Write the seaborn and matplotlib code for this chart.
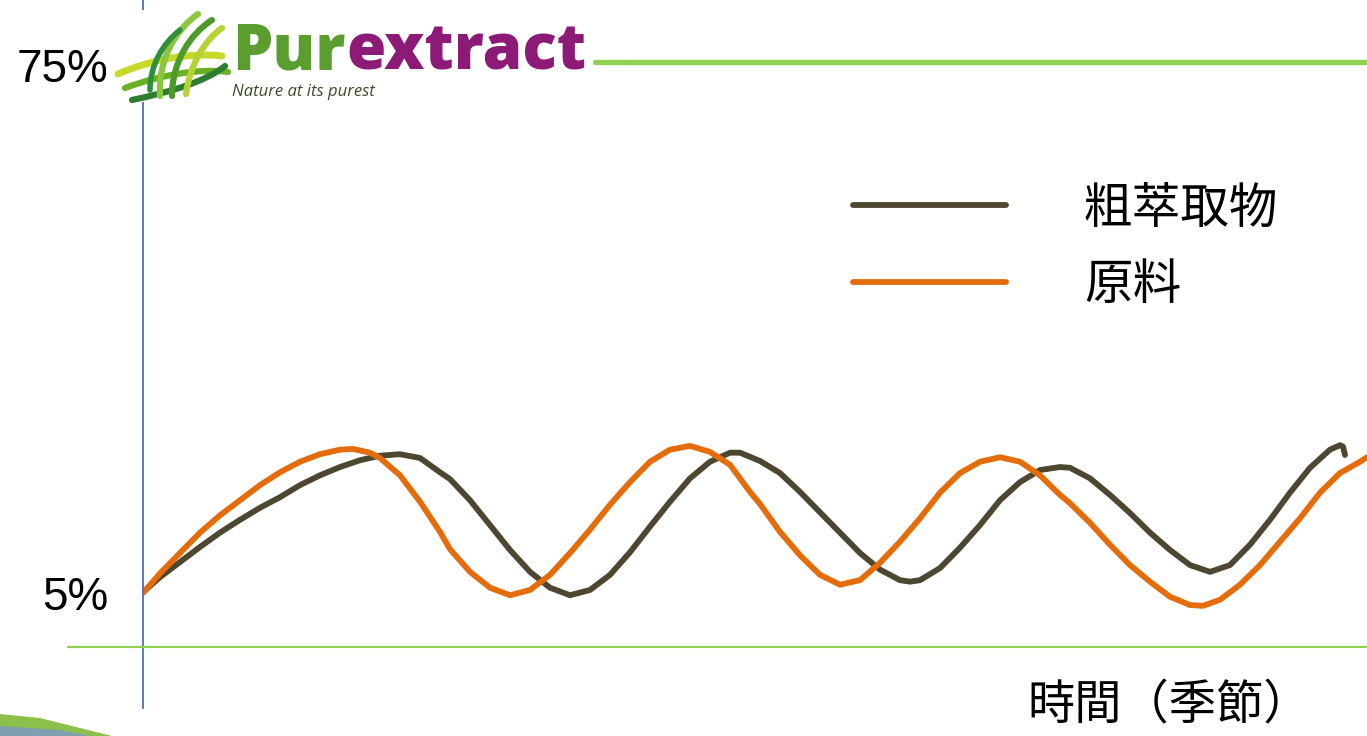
import matplotlib
matplotlib.use("Agg")
import matplotlib.pyplot as plt
import matplotlib.transforms as mtransforms
from matplotlib.path import Path
from matplotlib.patches import PathPatch, Polygon, Rectangle
from matplotlib.lines import Line2D
import pandas as pd
import seaborn as sns

# series (time in arbitrary units, value in %)
crude_t = [0.0, 0.17, 0.37, 0.57, 0.77, 0.97, 1.17, 1.37, 1.57, 1.77, 1.97, 2.17,
           2.37, 2.57, 2.77, 2.97, 3.07, 3.27, 3.47, 3.67, 3.87, 4.07, 4.27, 4.47,
           4.67, 4.87, 5.07, 5.27, 5.47, 5.67, 5.87, 5.97, 6.17, 6.37, 6.57, 6.77,
           6.97, 7.17, 7.37, 7.57, 7.67, 7.77, 7.97, 8.17, 8.37, 8.57, 8.77, 8.97,
           9.17, 9.27, 9.47, 9.67, 9.87, 10.07, 10.27, 10.47, 10.67, 10.87, 11.07,
           11.27, 11.47, 11.67, 11.87, 11.97, 12.0, 12.02]
crude_v = [5.1, 7.1, 9.1, 11.1, 13.0, 14.7, 16.3, 17.7, 19.3, 20.6, 21.7, 22.6,
           23.2, 23.4, 22.9, 21.0, 20.1, 17.3, 14.0, 10.7, 7.8, 5.7, 4.7, 5.4,
           7.4, 10.4, 13.8, 17.1, 20.2, 22.4, 23.6, 23.6, 22.5, 20.9, 18.4, 15.7,
           13.0, 10.3, 8.1, 6.7, 6.5, 6.7, 8.3, 11.0, 14.0, 17.3, 19.7, 21.3,
           21.7, 21.6, 20.2, 18.0, 15.6, 13.0, 10.7, 8.7, 7.8, 8.7, 11.4,
           14.7, 18.3, 21.6, 24.0, 24.6, 24.4, 23.3]

raw_t = [0.0, 0.17, 0.37, 0.57, 0.77, 0.97, 1.17, 1.37, 1.57, 1.77, 1.97, 2.10,
         2.27, 2.37, 2.57, 2.77, 2.97, 3.07, 3.27, 3.47, 3.67, 3.87, 4.07, 4.27,
         4.47, 4.67, 4.87, 5.07, 5.27, 5.47, 5.67, 5.87, 6.07, 6.17, 6.37, 6.57,
         6.77, 6.97, 7.17, 7.37, 7.57, 7.77, 7.97, 8.17, 8.37, 8.57, 8.77, 8.97,
         9.17, 9.27, 9.47, 9.67, 9.87, 10.07, 10.27, 10.47, 10.60, 10.77, 10.97,
         11.17, 11.37, 11.57, 11.77, 11.97, 12.17, 12.24]
raw_v = [5.0, 7.6, 10.3, 13.0, 15.3, 17.3, 19.3, 21.0, 22.4, 23.4, 24.0, 24.1,
         23.6, 22.9, 20.6, 17.1, 13.1, 10.8, 7.8, 5.7, 4.7, 5.4, 7.4, 10.3,
         13.4, 16.7, 19.7, 22.4, 24.0, 24.5, 23.7, 22.0, 18.4, 16.8, 13.1, 10.0,
         7.4, 6.1, 6.7, 9.0, 11.8, 14.9, 18.3, 20.9, 22.4, 23.0, 22.4, 20.6,
         18.0, 16.9, 14.3, 11.4, 8.7, 6.5, 4.5, 3.4, 3.3, 4.1, 6.1,
         8.7, 11.8, 14.9, 18.3, 20.9, 22.4, 23.0]

series_names = ["粗萃取物", "原料"]
y_ticks = [5, 75]
y_tick_labels = ["5%", "75%"]
x_label = "時間（季節）"

df = pd.concat([
    pd.DataFrame({"t": crude_t, "v": crude_v, "series": series_names[0]}),
    pd.DataFrame({"t": raw_t, "v": raw_v, "series": series_names[1]}),
])

sns.set_style("white")
plt.rcParams["font.family"] = ["Noto Sans CJK TC", "Liberation Sans", "DejaVu Sans"]
plt.rcParams["text.color"] = "black"
plt.rcParams["ytick.color"] = "black"

W, H = 1367, 736
fig = plt.figure(figsize=(W / 100, H / 100), dpi=100)
# pixel (from top-left) -> figure transform for the slide decorations
px = mtransforms.Affine2D().scale(1 / W, -1 / H).translate(0, 1) + fig.transFigure

ax = fig.add_axes([143 / W, 28 / H, 1 - 143 / W, 708 / H])
sns.lineplot(data=df, x="t", y="v", hue="series", hue_order=series_names,
             palette=["#4d4630", "#e46c0a"], linewidth=4.2, sort=False,
             estimator=None, ax=ax)
for ln in ax.lines:
    ln.set_solid_joinstyle("round")
    ln.set_solid_capstyle("round")
ax.set_xlim(0, 12.24)
ax.set_ylim(-10.25, 83.62)
ax.set_xticks([])
ax.set_yticks(y_ticks)
ax.set_yticklabels(y_tick_labels, fontsize=33, color="black",
                   family=["Liberation Sans", "DejaVu Sans"])
ax.tick_params(axis="y", length=0, pad=25)
ax.set_ylabel("")
ax.set_xlabel(x_label, fontsize=34, color="black", ha="center", va="center")
ax.xaxis.set_label_coords(0.838, 0.004)
for s in ["top", "right", "bottom"]:
    ax.spines[s].set_visible(False)
ax.spines["left"].set_color("#4472c4")
ax.spines["left"].set_linewidth(1.3)

leg = ax.legend(loc="upper left", bbox_to_anchor=(853 / W, 1 - 184 / H),
                bbox_transform=fig.transFigure, frameon=False, fontsize=35,
                handlelength=3.15, handletextpad=1.6, labelspacing=0.55,
                borderpad=0, borderaxespad=0)
for txt in leg.get_texts():
    txt.set_color("black")

# green rules of the slide
fig.add_artist(Line2D([68, W], [647, 647], color="#92d050", lw=1.6, transform=px))
fig.add_artist(Line2D([595, W], [62, 62], color="#92d050", lw=3.8, transform=px))

# logo
fig.add_artist(Rectangle((112, 10), 484, 92, facecolor="white", edgecolor="none", transform=px))
strokes = [
    ([(118, 74), (150, 60), (190, 52), (222, 56)], "#c8d92a", 5),
    ([(125, 88), (160, 75), (200, 68), (228, 72)], "#6ab023", 4.5),
    ([(132, 100), (170, 92), (205, 82), (225, 66)], "#2e7d32", 4.5),
    ([(160, 96), (158, 60), (175, 30), (198, 14)], "#8cc63f", 4.5),
    ([(172, 96), (172, 62), (190, 34), (212, 20)], "#4e9a2a", 4.5),
    ([(186, 94), (190, 64), (205, 40), (222, 28)], "#b5d334", 4.5),
    ([(150, 90), (150, 66), (162, 44), (180, 30)], "#2f8f3a", 4),
]
for pts, c, w in strokes:
    codes = [Path.MOVETO, Path.CURVE4, Path.CURVE4, Path.CURVE4]
    fig.add_artist(PathPatch(Path(pts, codes), facecolor="none", edgecolor=c,
                             lw=w, capstyle="round", transform=px))
pur = fig.text(232 / W, 1 - 70 / H, "Pur", color="#5a9e2f", fontsize=46,
               fontweight="heavy", family="Open Sans", va="baseline")
fig.canvas.draw()
x_end = pur.get_window_extent().x1 / W
fig.text(x_end + 1 / W, 1 - 70 / H, "extract", color="#8e1a78", fontsize=46,
         fontweight="heavy", family="Open Sans", va="baseline")
fig.text(232 / W, 1 - 96 / H, "Nature at its purest", color="#3d4a2a", fontsize=12,
         style="italic", family="Open Sans", va="baseline")

# bottom-left swoosh
fig.add_artist(Polygon([(0, 714), (40, 718), (112, 736), (0, 736)], closed=True,
                       facecolor="#8cc04a", edgecolor="none", transform=px))
fig.add_artist(Polygon([(0, 726), (60, 730), (90, 736), (0, 736)], closed=True,
                       facecolor="#7f9fb0", edgecolor="none", transform=px))

fig.savefig("out.png", dpi=100)
